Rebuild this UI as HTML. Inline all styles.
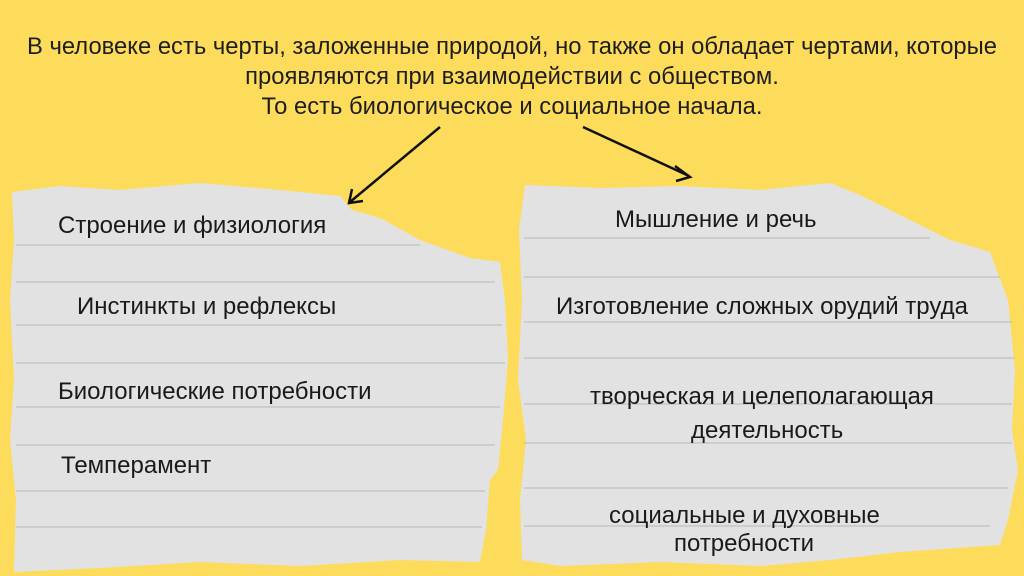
<!DOCTYPE html>
<html><head><meta charset="utf-8"><style>
html,body{margin:0;padding:0}
body{width:1024px;height:576px;background:#fddc5c;position:relative;overflow:hidden;font-family:"Liberation Sans","Noto Sans CJK SC",sans-serif;color:#1a1a1a}
svg{position:absolute;left:0;top:0}
.t{position:absolute;font-size:24px;line-height:28px;white-space:nowrap}
.h{position:absolute;left:0;width:1024px;text-align:center;font-size:23.8px;line-height:30px;color:#1e1e1e}
</style></head><body>
<svg width="1024" height="576">
<polygon fill="#e2e2e2" points="12,192 60,186 120,190 200,183 280,190 340,196 352,210 380,218 420,240 470,258 500,262 505,300 508,360 503,420 498,470 490,480 486,530 480,562 400,560 300,566 200,562 100,568 14,572 16,500 10,440 14,380 10,300 14,240"/>
<polygon fill="#e2e2e2" points="525,185 600,188 680,186 760,190 830,183 860,195 900,215 950,240 990,252 1008,300 1015,370 1012,430 1018,470 1008,520 1000,545 900,552 830,560 760,566 660,562 560,566 522,560 520,500 526,440 518,380 522,300 519,230"/>
<g stroke="#b8b8b8" stroke-width="1">
<line x1="16" y1="245" x2="420" y2="245"/><line x1="16" y1="282" x2="495" y2="282"/>
<line x1="16" y1="325" x2="502" y2="325"/><line x1="16" y1="363" x2="505" y2="363"/>
<line x1="16" y1="407" x2="500" y2="407"/><line x1="16" y1="445" x2="495" y2="445"/>
<line x1="16" y1="491" x2="485" y2="491"/><line x1="16" y1="527" x2="482" y2="527"/>
<line x1="524" y1="238" x2="930" y2="238"/><line x1="524" y1="277" x2="1000" y2="277"/>
<line x1="524" y1="322" x2="1012" y2="322"/><line x1="524" y1="358" x2="1015" y2="358"/>
<line x1="524" y1="404" x2="1012" y2="404"/><line x1="524" y1="443" x2="1012" y2="443"/>
<line x1="524" y1="488" x2="1008" y2="488"/><line x1="524" y1="526" x2="990" y2="526"/>
</g>
<g stroke="#111" stroke-width="2.5" fill="none">
<line x1="440" y1="127" x2="350" y2="202"/>
<polyline points="352,189 349,203 363,201"/>
<line x1="583" y1="127" x2="689" y2="176"/>
<polyline points="675,166 690,177 676,181"/>
</g>
</svg>
<div class="h" style="top:32px">В человеке есть черты, заложенные природой, но также он обладает чертами, которые</div>
<div class="h" style="top:62px">проявляются при взаимодействии с обществом.</div>
<div class="h" style="top:92px">То есть биологическое и социальное начала.</div>
<div class="t" style="left:58px;top:212px">Строение и физиология</div>
<div class="t" style="left:77px;top:293px">Инстинкты и рефлексы</div>
<div class="t" style="left:58px;top:378px">Биологические потребности</div>
<div class="t" style="left:61px;top:452px">Темперамент</div>
<div class="t" style="left:615px;top:206px">Мышление и речь</div>
<div class="t" style="left:556px;top:293px">Изготовление сложных орудий труда</div>
<div class="t" style="left:590px;top:383px">творческая и целеполагающая</div>
<div class="t" style="left:691px;top:417px">деятельность</div>
<div class="t" style="left:609px;top:502px">социальные и духовные</div>
<div class="t" style="left:674px;top:530px">потребности</div>
</body></html>
